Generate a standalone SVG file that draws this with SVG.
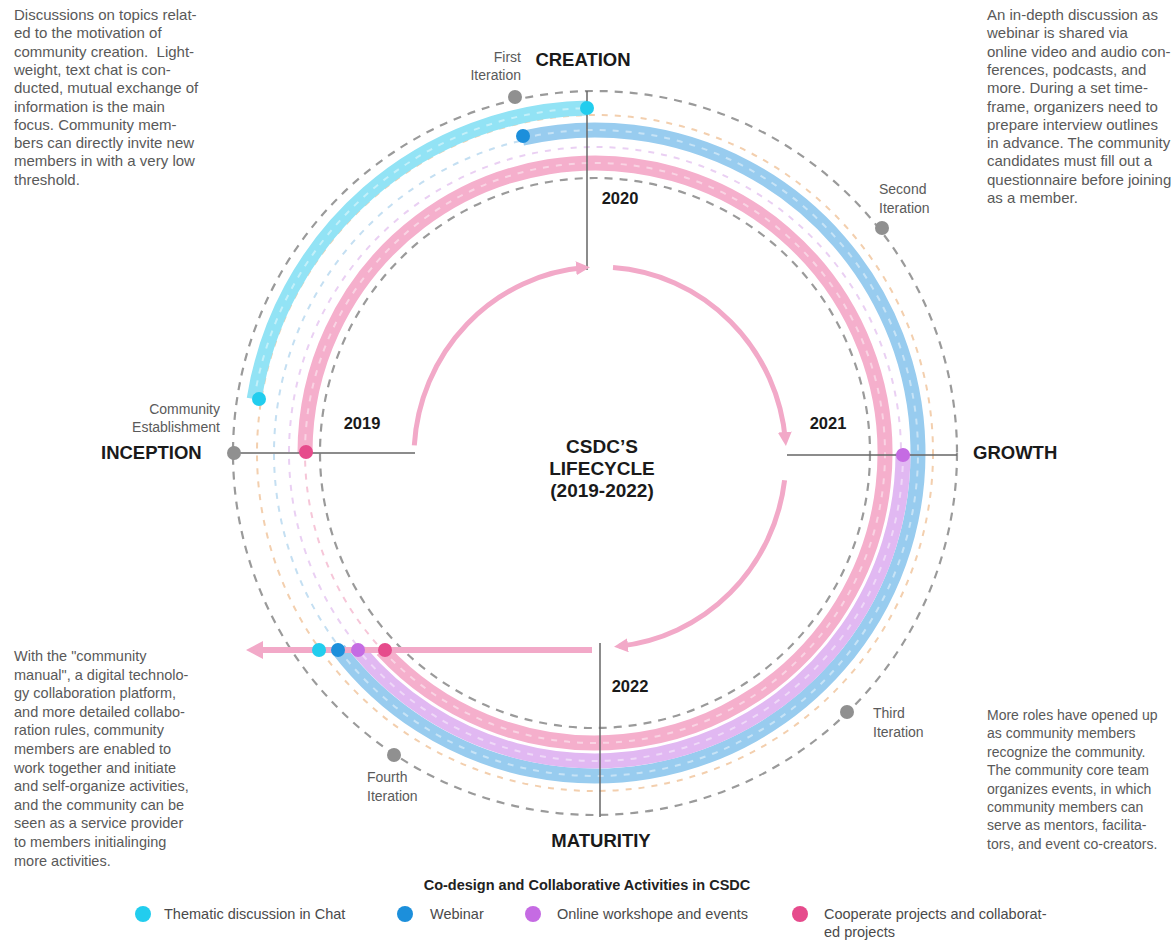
<svg xmlns="http://www.w3.org/2000/svg" width="1176" height="942" viewBox="0 0 1176 942">
<defs>
<style>
.body{font-family:"Liberation Sans",Arial,sans-serif;font-size:14.5px;fill:#595959}
.lbl{font-family:"Liberation Sans",Arial,sans-serif;font-size:14px;fill:#5a5a5a}
.stage{font-family:"Liberation Sans",Arial,sans-serif;font-size:18.5px;font-weight:bold;fill:#1a1a1a}
.year{font-family:"Liberation Sans",Arial,sans-serif;font-size:16.5px;font-weight:bold;fill:#1a1a1a}
.title{font-family:"Liberation Sans",Arial,sans-serif;font-size:19px;font-weight:bold;fill:#1a1a1a}
.leg{font-family:"Liberation Sans",Arial,sans-serif;font-size:14.5px;fill:#4a4a4a}
.legt{font-family:"Liberation Sans",Arial,sans-serif;font-size:14.5px;font-weight:bold;fill:#222}
.gdash{fill:none;stroke:#9a9a9a;stroke-width:2.2;stroke-dasharray:8 7}
.fdash{fill:none;stroke-width:2;stroke-dasharray:6 7}
.band{fill:none;stroke-width:15}
.wdash{fill:none;stroke:#fff;stroke-width:2;stroke-dasharray:6 7;opacity:0.45}
.axis{stroke:#666;stroke-width:1.5}
.inner{fill:none;stroke:#f2a9c8;stroke-width:5;marker-end:url(#ah)}
</style>
<marker id="ah" markerUnits="userSpaceOnUse" markerWidth="16" markerHeight="16" refX="9" refY="7" orient="auto">
<path d="M0,0 L14,7 L0,14 z" fill="#f2a9c8"/>
</marker>
</defs>
<rect width="1176" height="942" fill="#fff"/>

<g id="rings">
<circle class="fdash" cx="595" cy="453" r="338" stroke="#f3cfae"/>
<circle class="fdash" cx="595" cy="453" r="321" stroke="#c4dff2"/>
<circle class="fdash" cx="595" cy="453" r="306" stroke="#ead0f3"/>
<circle class="fdash" cx="595" cy="453" r="290" stroke="#f6c6d8"/>
<circle class="gdash" cx="595" cy="453" r="362"/>
<circle class="gdash" cx="595" cy="453" r="275"/>
</g>

<g id="bands">
<path class="band" stroke="#92e3f5" d="M254.2 399 A345 345 0 0 1 587.1 108.1"/>
<path class="wdash" d="M254.2 399 A345 345 0 0 1 587.1 108.1"/>
<path class="band" stroke="#98ccef" d="M522.3 138.3 A323 323 0 1 1 338.7 649.6"/>
<path class="wdash" d="M522.3 138.3 A323 323 0 1 1 338.7 649.6"/>
<path class="band" stroke="#e1b8f2" d="M903 453 A308 308 0 0 1 359.1 651"/>
<path class="wdash" d="M903 453 A308 308 0 0 1 359.1 651"/>
<path class="band" stroke="#f5afcc" stroke-width="17" d="M305 453 A290 290 0 1 1 382.2 650"/>
<path class="wdash" d="M305 453 A290 290 0 1 1 382.2 650"/>
</g>

<g id="connectors">
<line class="axis" x1="587" y1="91" x2="587" y2="270"/>
<line class="axis" x1="600" y1="643" x2="600" y2="817"/>
<line class="axis" x1="234" y1="453" x2="415" y2="453"/>
<line class="axis" x1="787" y1="455" x2="957" y2="455"/>
<path class="inner" d="M414.3 445.4 A186 190 0 0 1 585 267.6"/>
<path class="inner" d="M613 267.5 A186 190 0 0 1 785.5 441"/>
<path class="inner" d="M784.6 480.2 A186 190 0 0 1 619 646.2"/>
<line x1="592" y1="650" x2="258" y2="650" stroke="#f2a9c8" stroke-width="6"/>
<polygon points="246,650 263,641 263,659" fill="#f2a9c8"/>
</g>

<g id="dots">
<circle cx="587" cy="108" r="7" fill="#22cdee"/>
<circle cx="259" cy="399" r="7" fill="#22cdee"/>
<circle cx="523" cy="136" r="7" fill="#1c8fdb"/>
<circle cx="903" cy="455" r="7" fill="#c56be3"/>
<circle cx="306" cy="452" r="7" fill="#e64b8c"/>
<circle cx="319" cy="650" r="7" fill="#22cdee"/>
<circle cx="338" cy="650" r="7" fill="#1c8fdb"/>
<circle cx="358" cy="650" r="7" fill="#c56be3"/>
<circle cx="385" cy="650" r="7" fill="#e64b8c"/>
</g>

<g id="iteration-first">
<circle cx="515" cy="97" r="7" fill="#909090"/>
<text class="lbl" x="521" y="62" text-anchor="end">First</text>
<text class="lbl" x="521" y="80" text-anchor="end">Iteration</text>
</g>
<g id="iteration-second">
<circle cx="882" cy="228" r="7" fill="#909090"/>
<text class="lbl" x="879" y="194">Second</text>
<text class="lbl" x="879" y="213">Iteration</text>
</g>
<g id="iteration-third">
<circle cx="847" cy="712" r="7" fill="#909090"/>
<text class="lbl" x="873" y="718">Third</text>
<text class="lbl" x="873" y="737">Iteration</text>
</g>
<g id="iteration-fourth">
<circle cx="394" cy="755" r="7" fill="#909090"/>
<text class="lbl" x="367" y="782">Fourth</text>
<text class="lbl" x="367" y="801">Iteration</text>
</g>
<g id="community-establishment">
<circle cx="234" cy="453" r="7" fill="#909090"/>
<text class="lbl" x="220" y="414" text-anchor="end">Community</text>
<text class="lbl" x="220" y="432" text-anchor="end">Establishment</text>
</g>

<g id="stage-creation"><text class="stage" x="583" y="66" text-anchor="middle">CREATION</text></g>
<g id="stage-growth"><text class="stage" x="973" y="459">GROWTH</text></g>
<g id="stage-inception"><text class="stage" x="101" y="459">INCEPTION</text></g>
<g id="stage-maturity"><text class="stage" x="601" y="847" text-anchor="middle">MATURITIY</text></g>

<g id="years">
<text class="year" x="362" y="429" text-anchor="middle">2019</text>
<text class="year" x="620" y="204" text-anchor="middle">2020</text>
<text class="year" x="828" y="429" text-anchor="middle">2021</text>
<text class="year" x="630" y="692" text-anchor="middle">2022</text>
</g>

<g id="center-title">
<text class="title" x="602" y="453" text-anchor="middle">CSDC’S</text>
<text class="title" x="602" y="475" text-anchor="middle">LIFECYCLE</text>
<text class="title" x="602" y="497" text-anchor="middle">(2019-2022)</text>
</g>

<g id="note-creation">
<text class="body" x="14" y="20" style="font-size:15px"><tspan x="14">Discussions on topics relat-</tspan><tspan x="14" dy="18.3">ed to the motivation of</tspan><tspan x="14" dy="18.3">community creation.&#160; Light-</tspan><tspan x="14" dy="18.3">weight, text chat is con-</tspan><tspan x="14" dy="18.3">ducted, mutual exchange of</tspan><tspan x="14" dy="18.3">information is the main</tspan><tspan x="14" dy="18.3">focus. Community mem-</tspan><tspan x="14" dy="18.3">bers can directly invite new</tspan><tspan x="14" dy="18.3">members in with a very low</tspan><tspan x="14" dy="18.3">threshold.</tspan></text>
</g>
<g id="note-growth">
<text class="body" x="987" y="20" style="font-size:15px"><tspan x="987">An in-depth discussion as</tspan><tspan x="987" dy="18.3">webinar is shared via</tspan><tspan x="987" dy="18.3">online video and audio con-</tspan><tspan x="987" dy="18.3">ferences, podcasts, and</tspan><tspan x="987" dy="18.3">more. During a set time-</tspan><tspan x="987" dy="18.3">frame, organizers need to</tspan><tspan x="987" dy="18.3">prepare interview outlines</tspan><tspan x="987" dy="18.3">in advance. The community</tspan><tspan x="987" dy="18.3">candidates must fill out a</tspan><tspan x="987" dy="18.3">questionnaire before joining</tspan><tspan x="987" dy="18.3">as a member.</tspan></text>
</g>
<g id="note-maturity">
<text class="body" x="14" y="661"><tspan x="14">With the "community</tspan><tspan x="14" dy="18.6">manual", a digital technolo-</tspan><tspan x="14" dy="18.6">gy collaboration platform,</tspan><tspan x="14" dy="18.6">and more detailed collabo-</tspan><tspan x="14" dy="18.6">ration rules, community</tspan><tspan x="14" dy="18.6">members are enabled to</tspan><tspan x="14" dy="18.6">work together and initiate</tspan><tspan x="14" dy="18.6">and self-organize activities,</tspan><tspan x="14" dy="18.6">and the community can be</tspan><tspan x="14" dy="18.6">seen as a service provider</tspan><tspan x="14" dy="18.6">to members initialinging</tspan><tspan x="14" dy="18.6">more activities.</tspan></text>
</g>
<g id="note-third">
<text class="body" x="987" y="720" style="font-size:14px"><tspan x="987">More roles have opened up</tspan><tspan x="987" dy="18.4">as community members</tspan><tspan x="987" dy="18.4">recognize the community.</tspan><tspan x="987" dy="18.4">The community core team</tspan><tspan x="987" dy="18.4">organizes events, in which</tspan><tspan x="987" dy="18.4">community members can</tspan><tspan x="987" dy="18.4">serve as mentors, facilita-</tspan><tspan x="987" dy="18.4">tors, and event co-creators.</tspan></text>
</g>

<g id="legend">
<text class="legt" x="587" y="890" text-anchor="middle">Co-design and Collaborative Activities in CSDC</text>
<circle cx="143" cy="914" r="8" fill="#22cdee"/>
<text class="leg" x="164" y="919">Thematic discussion in Chat</text>
<circle cx="405" cy="914" r="8" fill="#1c8fdb"/>
<text class="leg" x="430" y="919">Webinar</text>
<circle cx="533" cy="914" r="8" fill="#c56be3"/>
<text class="leg" x="557" y="919">Online workshope and events</text>
<circle cx="800" cy="914" r="8" fill="#e64b8c"/>
<text class="leg" x="824" y="919">Cooperate projects and collaborat-</text>
<text class="leg" x="824" y="937">ed projects</text>
</g>
</svg>
